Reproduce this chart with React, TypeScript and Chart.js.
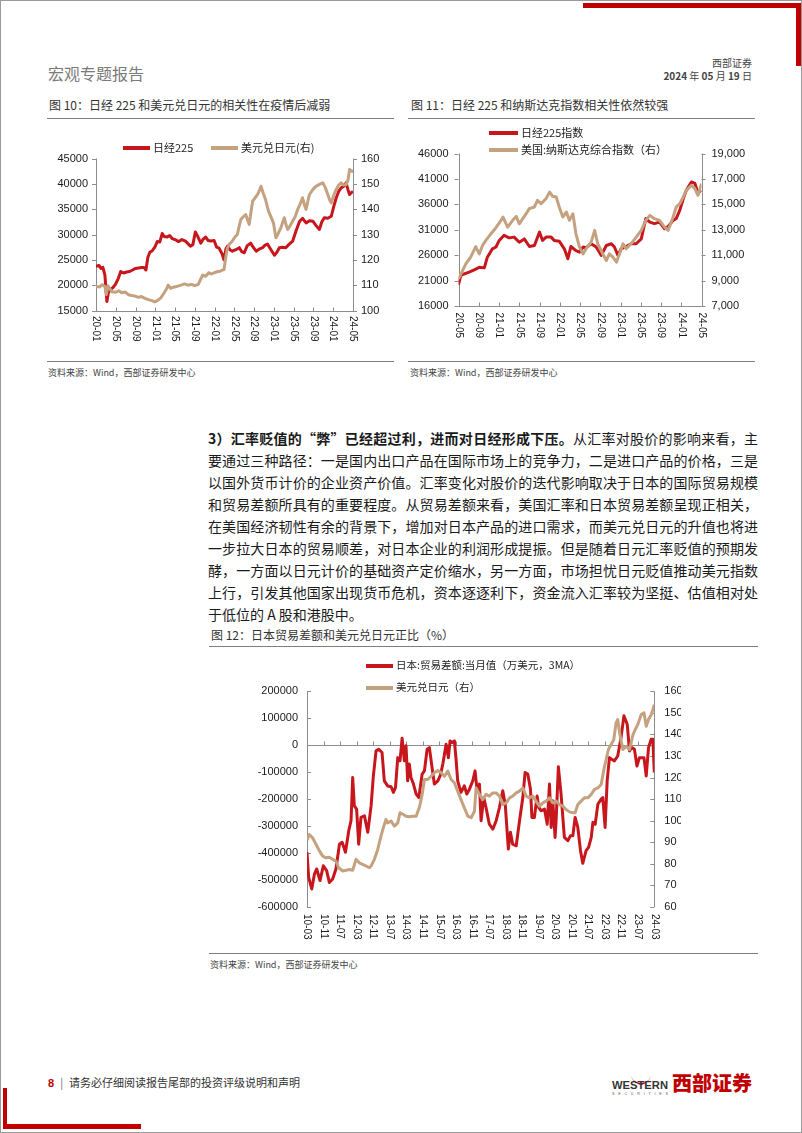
import React, { useEffect, useRef } from "react";
import { Chart, registerables } from "chart.js";

Chart.register(...registerables);

const RED = "#C8161D";
const TAN = "#C4A27F";
const AXIS = "#8C8C8C";
const CJK = '"Noto Sans CJK SC", "Noto Sans", sans-serif';
const NUM = '"Liberation Sans", Arial, sans-serif';

// ---------- Figure 10: Nikkei 225 vs USD/JPY (months since 2020-01) ----------
const fig10Ticks = ["20-01", "20-05", "20-09", "21-01", "21-05", "21-09", "22-01", "22-05", "22-09", "23-01", "23-05", "23-09", "24-01", "24-05"];
const fig10NikkeiT = [0, 0.6, 1.0, 1.4, 1.8, 2.2, 2.5, 2.9, 3.4, 3.9, 4.5, 5.0, 5.6, 6.2, 6.8, 7.4, 8.0, 8.6, 9.2, 9.7, 10.1, 10.5, 10.9, 11.4, 11.9, 12.4, 12.9, 13.4, 13.8, 14.4, 14.9, 15.4, 16.0, 16.7, 17.4, 18.1, 18.6, 19.1, 19.6, 20.1, 20.6, 21.2, 21.7, 22.2, 22.7, 23.2, 23.9, 24.4, 24.9, 25.5, 25.9, 26.3, 26.6, 27.1, 27.6, 28.3, 29.0, 29.5, 30.0, 30.6, 31.3, 31.8, 32.4, 33.0, 33.7, 34.2, 34.7, 35.4, 36.1, 36.6, 37.1, 37.7, 38.4, 39.1, 39.8, 40.5, 41.2, 41.8, 42.5, 43.2, 43.9, 44.5, 45.2, 45.7, 46.2, 46.9, 47.6, 48.1, 48.6, 49.1, 49.6, 50.1, 50.6, 51.0, 51.3, 51.7, 52];
const fig10Nikkei = [23700, 23900, 23300, 23500, 22000, 16800, 18500, 19100, 19500, 20100, 21300, 22700, 22400, 22600, 22700, 23000, 23300, 23400, 23500, 23500, 23000, 25500, 26500, 26800, 27500, 28600, 28500, 30200, 29600, 29500, 29800, 29200, 29000, 28600, 29000, 28700, 28200, 27700, 28000, 30500, 29600, 28300, 29100, 29500, 28800, 28700, 28800, 27500, 27300, 26200, 25000, 27200, 27700, 27000, 26700, 27000, 27400, 26600, 26400, 27800, 28300, 27500, 26700, 27100, 27400, 27900, 28100, 27000, 25900, 26500, 27400, 27500, 27400, 28100, 28700, 30800, 32600, 33200, 32300, 32700, 32600, 31800, 31000, 32500, 33300, 33200, 33600, 35500, 37200, 38500, 39200, 39500, 40200, 38800, 37900, 38300, 38500];
const fig10UsdJpyT = [0, 0.7, 1.3, 1.8, 2.1, 2.4, 2.8, 3.2, 4.0, 4.6, 5.2, 5.9, 6.6, 7.2, 7.9, 8.6, 9.2, 9.9, 10.6, 11.3, 11.9, 12.5, 13.1, 13.8, 14.3, 14.6, 15.1, 15.7, 16.5, 17.2, 17.9, 18.6, 19.3, 20.0, 20.7, 21.2, 21.6, 22.2, 22.8, 23.4, 23.9, 24.5, 25.1, 25.6, 25.9, 26.3, 26.6, 27.1, 27.6, 28.1, 28.6, 29.0, 29.3, 29.8, 30.3, 30.7, 31.0, 31.4, 31.7, 32.2, 32.7, 33.1, 33.4, 33.8, 34.3, 34.9, 35.5, 35.9, 36.4, 36.9, 37.4, 37.8, 38.1, 38.5, 38.8, 39.3, 39.8, 40.3, 40.8, 41.3, 41.8, 42.2, 42.5, 42.9, 43.2, 43.9, 44.5, 45.2, 45.9, 46.4, 46.9, 47.3, 47.6, 48.1, 48.6, 49.1, 49.6, 50.1, 50.6, 51.0, 51.3, 51.7, 52];
const fig10UsdJpy = [109.6, 109.3, 110.2, 109.5, 106.3, 109.8, 108.6, 107.4, 107.2, 107.8, 107.0, 107.3, 106.2, 105.9, 105.7, 105.2, 105.5, 104.8, 104.3, 103.9, 103.4, 104.0, 105.0, 107.0, 108.6, 110.0, 108.8, 109.2, 109.6, 110.0, 110.5, 110.0, 110.3, 109.8, 110.3, 112.5, 114.0, 113.5, 114.9, 114.4, 114.9, 115.3, 115.5, 116.0, 116.2, 121.5, 124.7, 126.5, 127.4, 129.0, 130.0, 133.5, 135.9, 137.0, 137.9, 135.5, 134.0, 139.5, 143.2, 144.5, 145.8, 147.5, 149.0, 146.5, 143.8, 139.2, 136.5, 134.6, 128.7, 130.5, 132.6, 135.0, 136.6, 133.5, 132.0, 133.5, 135.3, 137.0, 139.9, 142.0, 144.5, 141.5, 139.9, 143.5, 145.8, 147.8, 149.0, 149.8, 150.4, 148.5, 145.8, 143.5, 142.5, 145.5, 147.8, 149.5, 150.4, 149.5, 149.7, 151.5, 155.7, 155.0, 155.0];

// ---------- Figure 11: Nikkei 225 vs Nasdaq composite (months since 2020-05) ----------
const fig11Ticks = ["20-05", "20-09", "21-01", "21-05", "21-09", "22-01", "22-05", "22-09", "23-01", "23-05", "23-09", "24-01", "24-05"];
const fig11NikkeiT = [0, 0.46, 1.1, 2.1, 3.1, 4.1, 5.1, 5.7, 6.7, 7.4, 8.05, 9.0, 10.0, 11.0, 12.0, 13.0, 14.0, 15.0, 16.0, 16.6, 17.3, 18.3, 18.9, 19.9, 20.9, 21.6, 22.2, 23.2, 23.9, 24.6, 25.2, 26.2, 27.2, 28.2, 29.2, 30.2, 30.8, 31.5, 32.1, 33.1, 34.1, 35.1, 36.1, 37.0, 37.8, 38.7, 39.7, 40.7, 41.4, 42.4, 43.0, 43.7, 44.4, 45.0, 46.0, 46.7, 47.3, 48.0];
const fig11Nikkei = [20200, 22000, 22300, 22650, 23100, 23600, 23500, 25600, 27250, 27600, 28900, 29900, 29400, 29550, 28550, 29200, 27700, 27900, 30550, 28900, 29550, 29550, 28900, 28750, 27250, 25300, 27700, 26900, 26600, 27600, 27450, 28250, 27600, 25950, 27900, 28250, 27600, 25950, 27250, 27700, 28250, 28250, 29200, 33200, 32500, 32200, 32500, 31200, 31650, 32850, 33200, 34800, 37100, 38750, 40400, 40100, 38250, 38750];
const fig11NasdaqT = [0, 0.66, 1.45, 2.4, 3.4, 4.1, 4.75, 5.4, 6.4, 7.4, 8.4, 8.8, 9.7, 10.7, 11.4, 12.0, 13.0, 14.0, 15.0, 15.6, 16.3, 17.3, 18.0, 18.6, 19.3, 19.9, 20.6, 21.3, 21.9, 22.6, 23.2, 23.9, 24.6, 25.2, 26.2, 26.9, 27.5, 28.5, 29.2, 29.8, 30.5, 31.2, 31.8, 32.5, 33.1, 34.1, 35.1, 36.1, 37.0, 37.8, 38.7, 39.7, 40.7, 41.4, 42.4, 43.0, 43.7, 44.4, 45.0, 46.0, 46.7, 47.3, 48.0];
const fig11Nasdaq = [9130, 9660, 10320, 10840, 11680, 11100, 11760, 12160, 12680, 13160, 13740, 14000, 13210, 13740, 14050, 13470, 14050, 14660, 14790, 15320, 15050, 15450, 15970, 15630, 15580, 14790, 14000, 14400, 13740, 14260, 12680, 11630, 11100, 11500, 12030, 12950, 11900, 11100, 10580, 11100, 10840, 10450, 11100, 11900, 11500, 11900, 12420, 12950, 13740, 14130, 13870, 13740, 13210, 12950, 14000, 14790, 15050, 15580, 16100, 16500, 16240, 15710, 16630];

// ---------- Figure 12: Japan trade balance vs USD/JPY (months since 2010-03) ----------
const fig12Ticks = ["10-03", "10-11", "11-07", "12-03", "12-11", "13-07", "14-03", "14-11", "15-07", "16-03", "16-11", "17-07", "18-03", "18-11", "19-07", "20-03", "20-11", "21-07", "22-03", "22-11", "23-07", "24-03"];
const fig12TradeT = [0, 0.8, 2.3, 3.6, 4.7, 6.3, 7.9, 9.5, 10.8, 12.4, 14.0, 15.7, 17.0, 18.6, 20.2, 21.3, 22.1, 22.9, 24.0, 25.0, 26.1, 27.8, 29.4, 31.0, 32.1, 33.4, 34.7, 36.3, 37.4, 39.0, 40.7, 41.8, 42.8, 43.9, 45.0, 46.0, 47.1, 47.9, 48.7, 49.5, 50.3, 51.5, 52.8, 54.1, 55.7, 56.8, 58.1, 59.2, 60.5, 61.6, 63.3, 64.4, 65.7, 67.3, 68.4, 69.2, 70.2, 71.3, 72.1, 72.9, 74.5, 76.1, 77.3, 78.6, 80.2, 81.3, 82.3, 83.4, 84.2, 85.5, 86.6, 88.2, 89.9, 91.5, 93.1, 94.7, 95.9, 97.4, 98.4, 99.5, 101.2, 102.8, 104.4, 105.5, 106.8, 108.1, 108.8, 110.0, 111.3, 112.1, 113.3, 114.9, 116.2, 117.3, 118.1, 118.9, 120.0, 120.5, 121.6, 122.9, 124.5, 126.2, 127.4, 128.6, 129.7, 131.0, 132.3, 133.4, 135.0, 136.2, 137.5, 138.3, 139.4, 140.7, 142.3, 143.1, 144.2, 145.2, 146.3, 147.4, 148.7, 150.3, 151.9, 153.3, 154.9, 156.0, 157.1, 158.4, 159.6, 160.8, 161.9, 163.0, 164.1, 165.2, 166.5, 167.3, 168];
const fig12Trade = [-397000, -490000, -533000, -478000, -459000, -502000, -447000, -465000, -509000, -496000, -459000, -367000, -360000, -397000, -317000, -280000, -120000, -225000, -237000, -367000, -268000, -262000, -323000, -225000, -114000, -21000, -15000, -27000, -132000, -151000, -154000, -175000, -157000, -46000, -58000, 26000, -58000, -2000, -132000, -70000, -120000, -144000, -181000, -194000, -107000, -95000, -15000, -9000, -83000, -144000, -132000, -114000, -70000, 4000, -46000, 16000, 10000, 16000, -52000, -132000, -175000, -151000, -181000, -163000, -132000, -95000, -169000, -144000, -280000, -194000, -231000, -293000, -311000, -280000, -231000, -169000, -219000, -385000, -323000, -367000, -373000, -280000, -194000, -101000, -107000, -163000, -268000, -268000, -188000, -231000, -243000, -237000, -293000, -144000, -305000, -206000, -342000, -280000, -80000, -181000, -342000, -354000, -336000, -336000, -268000, -305000, -391000, -438000, -391000, -379000, -342000, -286000, -293000, -219000, -200000, -194000, -305000, -132000, -46000, -52000, -58000, -40000, 28000, 109000, 78000, -21000, -9000, -15000, -77000, -46000, -46000, -46000, -114000, -9000, 22000, 22000, -101000];
const fig12UsdJpyT = [0, 1.1, 2.7, 4.4, 6.0, 7.6, 9.2, 10.8, 12.4, 14.0, 15.3, 17.3, 18.9, 20.5, 22.1, 23.7, 25.3, 26.9, 28.6, 30.2, 31.0, 32.6, 34.2, 35.8, 36.9, 38.2, 39.0, 40.7, 42.3, 43.9, 45.0, 46.6, 47.9, 49.5, 51.1, 52.8, 54.4, 55.7, 56.8, 58.4, 60.0, 61.6, 63.3, 64.9, 66.5, 68.1, 69.7, 71.3, 72.9, 74.5, 76.1, 77.8, 79.4, 81.0, 81.8, 83.4, 85.0, 86.6, 88.2, 89.9, 91.5, 93.1, 94.7, 96.3, 98.0, 99.5, 101.2, 102.8, 104.4, 106.0, 107.6, 109.2, 110.8, 112.4, 114.1, 115.7, 117.3, 118.9, 120.5, 122.1, 123.7, 125.3, 127.0, 128.6, 129.7, 131.0, 132.6, 134.2, 135.8, 137.5, 139.1, 140.7, 142.3, 143.6, 144.7, 145.8, 147.1, 148.4, 149.5, 150.3, 151.5, 152.8, 154.4, 156.0, 157.7, 158.8, 160.0, 161.7, 163.0, 164.1, 165.2, 166.5, 167.3, 168];
const fig12UsdJpy = [91.0, 93.6, 92.1, 89.0, 86.0, 83.6, 82.8, 83.1, 82.1, 81.3, 78.2, 76.7, 77.0, 77.4, 77.0, 82.1, 80.5, 79.8, 79.0, 78.2, 79.0, 82.1, 86.7, 92.9, 96.7, 100.6, 99.0, 99.8, 97.5, 99.0, 103.7, 102.9, 102.1, 101.8, 102.1, 102.1, 106.3, 112.2, 119.1, 119.1, 120.6, 122.2, 123.3, 122.2, 120.6, 123.0, 119.1, 117.6, 113.7, 109.8, 106.0, 102.1, 101.4, 104.4, 115.2, 112.2, 109.8, 112.2, 111.4, 112.9, 112.9, 111.4, 107.5, 108.3, 110.6, 111.4, 112.9, 113.7, 115.2, 111.4, 110.6, 111.4, 109.1, 106.8, 108.3, 109.1, 110.6, 108.3, 109.1, 107.5, 106.8, 105.2, 104.1, 103.7, 103.7, 107.5, 109.1, 110.6, 110.6, 112.2, 114.5, 115.2, 116.8, 123.7, 128.4, 133.0, 135.3, 137.6, 145.3, 146.9, 139.2, 133.0, 134.5, 133.0, 139.9, 142.3, 144.6, 149.2, 150.0, 143.8, 146.9, 149.2, 151.5, 153.8];

type Series = { t: number[]; v: number[]; color: string; axis: "yL" | "yR"; order: number };
type Spec = {
  box: { left: number; top: number; width: number; height: number };
  area: { left: number; top: number; right: number; bottom: number };
  xMax: number;
  xStep: number;
  xTicks: string[];
  yL: { min: number; max: number; step: number; fmt: (v: number) => string };
  yR: { min: number; max: number; step: number; fmt: (v: number) => string };
  padL: number;
  padR: number;
  yTickIn: boolean;
  zeroLine: boolean;
  labelGap: number;
  labelSize: number;
  tickSize: number;
  series: Series[];
};

const plain = (v: number) => String(v);
const comma = (v: number) => v.toLocaleString("en-US");

const spec10: Spec = {
  box: { left: 40, top: 125, width: 360, height: 225 },
  area: { left: 95, top: 157.5, right: 352, bottom: 309.5 },
  xMax: 52, xStep: 4, xTicks: fig10Ticks,
  yL: { min: 15000, max: 45000, step: 5000, fmt: plain },
  yR: { min: 100, max: 160, step: 10, fmt: plain },
  padL: 8, padR: 8, yTickIn: false, zeroLine: false, labelGap: 5.5, labelSize: 10, tickSize: 11,
  series: [
    { t: fig10NikkeiT, v: fig10Nikkei, color: RED, axis: "yL", order: 1 },
    { t: fig10UsdJpyT, v: fig10UsdJpy, color: TAN, axis: "yR", order: 0 },
  ],
};

const spec11: Spec = {
  box: { left: 400, top: 125, width: 360, height: 225 },
  area: { left: 457.5, top: 152.5, right: 700.5, bottom: 305 },
  xMax: 48, xStep: 4, xTicks: fig11Ticks,
  yL: { min: 16000, max: 46000, step: 5000, fmt: plain },
  yR: { min: 7000, max: 19000, step: 2000, fmt: comma },
  padL: 10, padR: 10, yTickIn: false, zeroLine: false, labelGap: 6.5, labelSize: 10, tickSize: 11,
  series: [
    { t: fig11NikkeiT, v: fig11Nikkei, color: RED, axis: "yL", order: 1 },
    { t: fig11NasdaqT, v: fig11Nasdaq, color: TAN, axis: "yR", order: 0 },
  ],
};

const spec12: Spec = {
  box: { left: 200, top: 650, width: 480, height: 300 },
  area: { left: 306, top: 690.3, right: 653.3, bottom: 906 },
  xMax: 168, xStep: 8, xTicks: fig12Ticks,
  yL: { min: -600000, max: 200000, step: 100000, fmt: plain },
  yR: { min: 60, max: 160, step: 10, fmt: plain },
  padL: 9, padR: 10, yTickIn: true, zeroLine: true, labelGap: 7, labelSize: 10, tickSize: 11,
  series: [
    { t: fig12TradeT, v: fig12Trade, color: RED, axis: "yL", order: 1 },
    { t: fig12UsdJpyT, v: fig12UsdJpy, color: TAN, axis: "yR", order: 0 },
  ],
};

function axesPlugin(s: Spec) {
  const px = (v: number) => Math.round(v) + 0.5;
  return {
    id: "customAxes",
    beforeDatasetsDraw(chart: any) {
      const { ctx, chartArea: a, scales } = chart;
      const x = scales.x, yl = scales.yL, yr = scales.yR;
      ctx.save();
      ctx.strokeStyle = AXIS;
      ctx.lineWidth = 1;
      ctx.beginPath();
      ctx.moveTo(px(a.left), a.top); ctx.lineTo(px(a.left), a.bottom);
      ctx.moveTo(px(a.right), a.top); ctx.lineTo(px(a.right), a.bottom);
      const by = s.zeroLine ? px(yl.getPixelForValue(0)) : px(a.bottom);
      ctx.moveTo(a.left, by); ctx.lineTo(a.right, by);
      s.xTicks.forEach((_, i) => {
        const xx = px(x.getPixelForValue(i * s.xStep));
        ctx.moveTo(xx, by); ctx.lineTo(xx, by - 4);
      });
      const dir = s.yTickIn ? 1 : -1;
      yl.ticks.forEach((t: any) => {
        const yy = px(yl.getPixelForValue(t.value));
        ctx.moveTo(a.left, yy); ctx.lineTo(a.left + dir * 4, yy);
      });
      yr.ticks.forEach((t: any) => {
        const yy = px(yr.getPixelForValue(t.value));
        ctx.moveTo(a.right, yy); ctx.lineTo(a.right - dir * 4, yy);
      });
      ctx.stroke();
      ctx.restore();
    },
    afterDraw(chart: any) {
      const { ctx, chartArea: a, scales } = chart;
      ctx.save();
      ctx.font = `${s.labelSize}px ${NUM}`;
      ctx.fillStyle = "#1a1a1a";
      ctx.textAlign = "left";
      ctx.textBaseline = "middle";
      s.xTicks.forEach((lab, i) => {
        const xx = scales.x.getPixelForValue(i * s.xStep);
        ctx.save();
        ctx.translate(xx, a.bottom + s.labelGap);
        ctx.rotate(Math.PI / 2);
        ctx.fillText(lab, 0, 0);
        ctx.restore();
      });
      ctx.restore();
    },
  };
}

function buildConfig(s: Spec): any {
  const b = s.box, a = s.area;
  const yScale = (ax: Spec["yL"], pos: "left" | "right", width: number, pad: number) => ({
    type: "linear",
    position: pos,
    min: ax.min,
    max: ax.max,
    grid: { display: false, drawTicks: false },
    border: { display: false },
    ticks: {
      stepSize: ax.step,
      padding: pad,
      color: "#1a1a1a",
      font: { family: NUM, size: s.tickSize },
      callback: (v: any) => ax.fmt(Number(v)),
    },
    afterFit: (sc: any) => { sc.width = width; },
  });
  return {
    type: "line",
    data: {
      datasets: s.series.map((se) => ({
        data: se.t.map((t, i) => ({ x: t, y: se.v[i] })),
        borderColor: se.color,
        backgroundColor: se.color,
        borderWidth: 3,
        pointRadius: 0,
        tension: 0,
        fill: false,
        yAxisID: se.axis,
        order: se.order,
        borderJoinStyle: "round",
      })),
    },
    options: {
      animation: false,
      responsive: false,
      maintainAspectRatio: false,
      events: [],
      layout: { padding: { top: a.top - b.top, bottom: b.top + b.height - a.bottom, left: 0, right: 0 } },
      plugins: { legend: { display: false }, tooltip: { enabled: false } },
      scales: {
        x: {
          type: "linear",
          min: 0,
          max: s.xMax,
          grid: { display: false, drawTicks: false },
          border: { display: false },
          ticks: { display: false },
          afterFit: (sc: any) => { sc.height = 0; },
        },
        yL: yScale(s.yL, "left", a.left - b.left, s.padL),
        yR: yScale(s.yR, "right", b.left + b.width - a.right, s.padR),
      },
    },
    plugins: [axesPlugin(s)],
  };
}

function ChartBox({ spec }: { spec: Spec }) {
  const ref = useRef<HTMLCanvasElement>(null);
  useEffect(() => {
    const chart = new Chart(ref.current as HTMLCanvasElement, buildConfig(spec));
    return () => chart.destroy();
  }, [spec]);
  const b = spec.box;
  return (
    <canvas
      ref={ref}
      width={b.width}
      height={b.height}
      style={{ position: "absolute", left: b.left, top: b.top, width: b.width, height: b.height }}
    />
  );
}

function Abs({ x, y, children, style }: { x: number; y: number; children?: React.ReactNode; style?: React.CSSProperties }) {
  return <div style={{ position: "absolute", left: x, top: y, whiteSpace: "nowrap", ...style }}>{children}</div>;
}

function LegendItem({ x, y, color, text, size, len = 27 }: { x: number; y: number; color: string; text: string; size: number; len?: number }) {
  return (
    <>
      <div style={{ position: "absolute", left: x, top: y - 2, width: len, height: 4, background: color }} />
      <div style={{ position: "absolute", left: x + len + 3, top: y - size * 0.72, fontSize: size, lineHeight: `${size * 1.4}px`, color: "#222", fontFamily: CJK, whiteSpace: "nowrap" }}>{text}</div>
    </>
  );
}

function Rule({ x1, x2, y }: { x1: number; x2: number; y: number }) {
  return <div style={{ position: "absolute", left: x1, top: y, width: x2 - x1, height: 1, background: "#7f7f7f" }} />;
}

const paraLines = [
  "要通过三种路径：一是国内出口产品在国际市场上的竞争力，二是进口产品的价格，三是",
  "以国外货币计价的企业资产价值。汇率变化对股价的迭代影响取决于日本的国际贸易规模",
  "和贸易差额所具有的重要程度。从贸易差额来看，美国汇率和日本贸易差额呈现正相关，",
  "在美国经济韧性有余的背景下，增加对日本产品的进口需求，而美元兑日元的升值也将进",
  "一步拉大日本的贸易顺差，对日本企业的利润形成提振。但是随着日元汇率贬值的预期发",
  "酵，一方面以日元计价的基础资产定价缩水，另一方面，市场担忧日元贬值推动美元指数",
  "上行，引发其他国家出现货币危机，资本逐逐利下，资金流入汇率较为坚挺、估值相对处",
];

export default function App() {
  const lineStyle: React.CSSProperties = {
    height: 22,
    lineHeight: "22px",
    textAlign: "justify",
    textAlignLast: "justify" as any,
    whiteSpace: "nowrap",
  };
  return (
    <div
      style={{
        position: "absolute",
        left: 0,
        top: 0,
        width: 802,
        height: 1133,
        boxSizing: "border-box",
        border: "1px solid #9a9a9a",
        background: "#fff",
        fontFamily: CJK,
        overflow: "hidden",
      }}
    >
      {/* decorative red bars */}
      <div style={{ position: "absolute", left: 582, top: 2, width: 218, height: 5, background: "#C00000" }} />
      <div style={{ position: "absolute", left: 795, top: 2, width: 5, height: 63, background: "#C00000" }} />
      <div style={{ position: "absolute", left: 2, top: 1087, width: 4, height: 41, background: "#C00000" }} />
      <div style={{ position: "absolute", left: 2, top: 1123, width: 138, height: 5, background: "#C00000" }} />

      {/* header */}
      <Abs x={47} y={61} style={{ fontSize: 16, color: "#7a7a7a", lineHeight: "22px" }}>宏观专题报告</Abs>
      <div style={{ position: "absolute", right: 49, top: 55, fontSize: 10, color: "#444", lineHeight: "14px" }}>西部证券</div>
      <div style={{ position: "absolute", right: 49, top: 68, fontSize: 10, color: "#444", lineHeight: "14px", fontWeight: 700 }}>
        2024 <span style={{ fontWeight: 400 }}>年</span> 05 <span style={{ fontWeight: 400 }}>月</span> 19 <span style={{ fontWeight: 400 }}>日</span>
      </div>

      {/* figure titles */}
      <Abs x={48} y={95} style={{ fontSize: 12, color: "#333", lineHeight: "18px" }}>
        图 10：日经 225 和美元兑日元的相关性在疫情后减弱
      </Abs>
      <Rule x1={46} x2={393} y={117} />
      <Abs x={410} y={95} style={{ fontSize: 12, color: "#333", lineHeight: "18px" }}>
        图 11：日经 225 和纳斯达克指数相关性依然较强
      </Abs>
      <Rule x1={407} x2={754} y={117} />

      {/* charts 10 & 11 */}
      <ChartBox spec={spec10} />
      <LegendItem x={122} y={147} color={RED} text="日经225" size={11} />
      <LegendItem x={210} y={147} color={TAN} text="美元兑日元(右)" size={11} />

      <ChartBox spec={spec11} />
      <LegendItem x={488} y={132} color={RED} text="日经225指数" size={11} len={29} />
      <LegendItem x={488} y={148.5} color={TAN} text="美国:纳斯达克综合指数（右）" size={11} len={29} />

      <Rule x1={46} x2={393} y={360} />
      <Rule x1={407} x2={754} y={360} />
      <Abs x={47} y={365} style={{ fontSize: 9, color: "#444", lineHeight: "13px" }}>资料来源：Wind，西部证券研发中心</Abs>
      <Abs x={409} y={365} style={{ fontSize: 9, color: "#444", lineHeight: "13px" }}>资料来源：Wind，西部证券研发中心</Abs>

      {/* paragraph */}
      <div style={{ position: "absolute", left: 207, top: 426, width: 550, fontSize: 14, color: "#1a1a1a" }}>
        <div style={lineStyle}>
          <b>3）汇率贬值的“弊”已经超过利，进而对日经形成下压。</b>从汇率对股价的影响来看，主
        </div>
        {paraLines.map((l, i) => (
          <div key={i} style={lineStyle}>{l}</div>
        ))}
        <div style={{ height: 22, lineHeight: "22px", whiteSpace: "nowrap" }}>于低位的 A 股和港股中。</div>
      </div>

      {/* figure 12 */}
      <Abs x={210} y={625} style={{ fontSize: 12, color: "#333", lineHeight: "18px" }}>
        图 12：日本贸易差额和美元兑日元正比（%）
      </Abs>
      <Rule x1={208} x2={757} y={645} />
      <ChartBox spec={spec12} />
      <LegendItem x={365} y={665} color={RED} text="日本:贸易差额:当月值（万美元，3MA）" size={10.5} />
      <LegendItem x={365} y={686.5} color={TAN} text="美元兑日元（右）" size={10.5} />
      <Rule x1={208} x2={757} y={952} />
      <Abs x={209} y={957} style={{ fontSize: 9, color: "#444", lineHeight: "13px" }}>资料来源：Wind，西部证券研发中心</Abs>

      {/* footer */}
      <Abs x={47} y={1073} style={{ fontSize: 11, lineHeight: "16px", color: "#333" }}>
        <span style={{ color: "#C00000", fontWeight: 700, fontFamily: NUM }}>8</span>
        <span style={{ color: "#666", margin: "0 6px" }}>|</span>
        请务必仔细阅读报告尾部的投资评级说明和声明
      </Abs>
      <svg style={{ position: "absolute", left: 608, top: 1066 }} width={148} height={32}>
        <path d="M22 9 C24 15, 30 16, 32 16 C34 16, 40 15, 42 9 C41 13, 37 17, 32 18 C27 17, 23 13, 22 9 Z" fill="#C00000" />
        <text x={3} y={22} fontFamily={NUM} fontWeight={700} fontSize={10.5} fill="#333" textLength={56} lengthAdjust="spacingAndGlyphs">WESTERN</text>
        <text x={3} y={28} fontFamily={NUM} fontSize={3.6} fill="#555" textLength={56} lengthAdjust="spacing">SECURITIES</text>
        <text x={63} y={24} fontFamily={CJK} fontWeight={900} fontSize={20} fill="#C00000">西部证券</text>
      </svg>
    </div>
  );
}
